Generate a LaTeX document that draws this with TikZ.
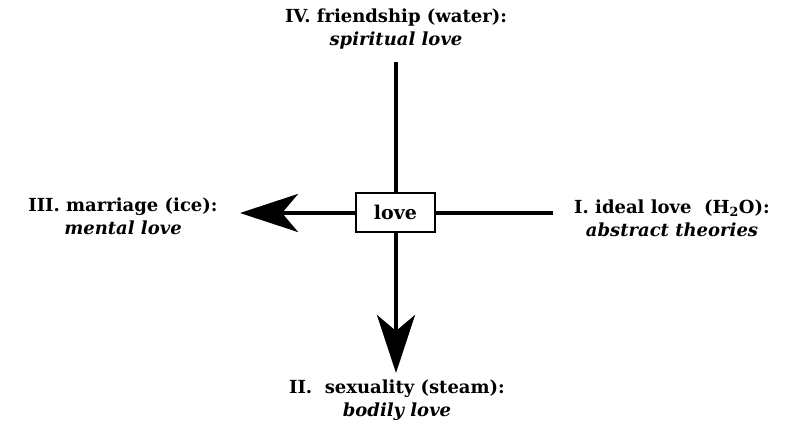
\documentclass[tikz,border=0pt]{standalone}
\usepackage{fontspec}
\setmainfont{DejaVu Serif}
\usetikzlibrary{arrows.meta}
\begin{document}
\begin{tikzpicture}[x=1pt,y=-1pt,
  lbl/.style={align=center,inner sep=0pt,font=\fontsize{18}{23}\selectfont},
  axis/.style={line width=4pt},
  arr/.style={line width=4pt,-{Stealth[length=58pt,width=38pt,inset=16pt]}},
  lovebox/.style={draw,line width=2pt,fill=white,minimum width=79pt,minimum height=39pt,inner sep=0pt,font=\fontsize{19}{20}\selectfont\bfseries}]
\useasboundingbox (0,0) rectangle (787,425);
\node[lovebox] (love) at (395.5,212.5) {love};
\coordinate (rend) at (553,213);
\coordinate (ltip) at (240,213);
\coordinate (ttop) at (396,62);
\coordinate (btip) at (396,373);
\draw[axis] (rend) -- (love.east |- rend);
\draw[arr] (love.west |- ltip) -- (ltip);
\draw[axis] (ttop) -- (love.north -| ttop);
\draw[arr] (love.south -| btip) -- (btip);
\node[lbl] (iv) at (396,29) {\textbf{IV. friendship (water):}\\\textit{\textbf{spiritual love}}};
\node[lbl] (iii) at (123,216) {\textbf{III. marriage (ice):}\\\textit{\textbf{mental love}}};
\node[lbl] (i) at (672,218) {\textbf{I. ideal love\ \ (H\textsubscript{2}O):}\\\textit{\textbf{abstract theories}}};
\node[lbl] (ii) at (397,400) {\textbf{II.\ \ sexuality (steam):}\\\textit{\textbf{bodily love}}};
\end{tikzpicture}
\end{document}
